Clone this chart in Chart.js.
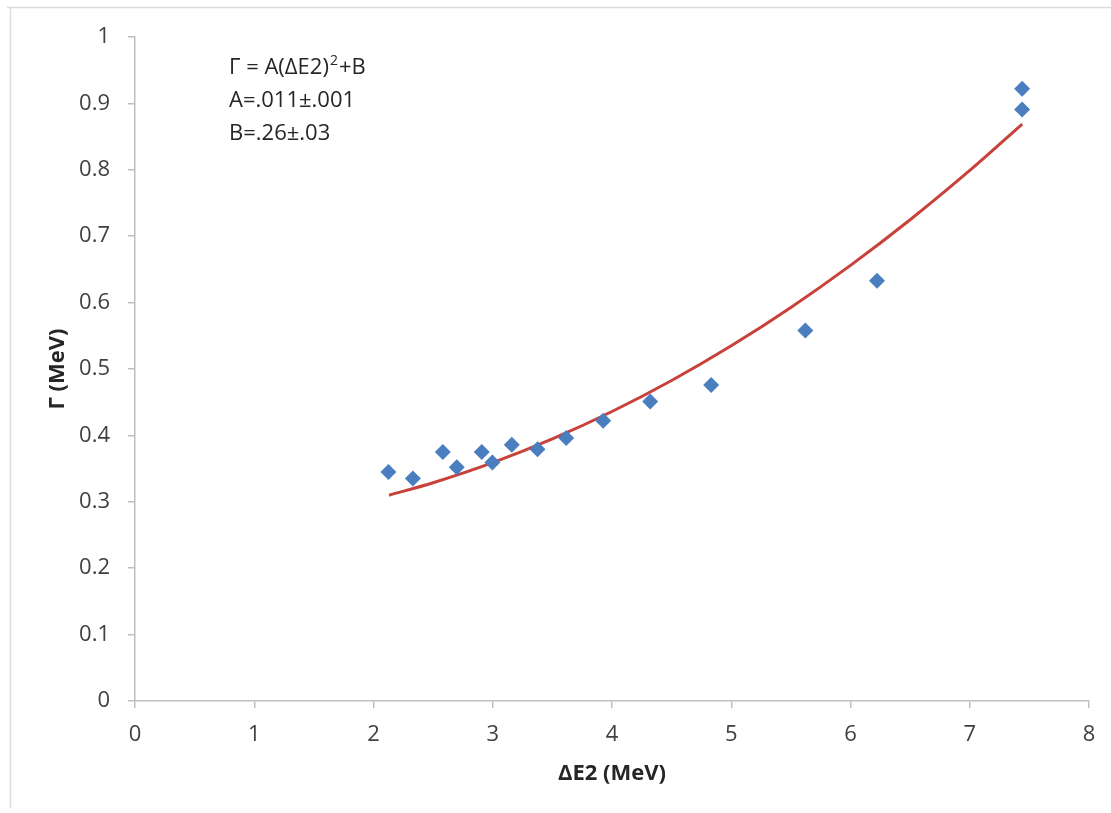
<!DOCTYPE html>
<html>
<head>
<meta charset="utf-8">
<script src="https://cdn.jsdelivr.net/npm/chart.js@4/dist/chart.umd.min.js"></script>
<style>
  html, body { margin: 0; padding: 0; background: #ffffff; }
  #wrap { width: 1111px; height: 813px; position: relative; }
</style>
</head>
<body>
<div id="wrap"><canvas id="c" width="1111" height="813"></canvas></div>
<script>
// Measured level widths: ΔE2 (MeV) against Γ (MeV)
const deltaE2 = [2.125, 2.330, 2.581, 2.698, 2.908, 2.997, 3.160, 3.375, 3.616, 3.926, 4.320, 4.832, 5.621, 6.222, 7.439, 7.439];
const gammaMeV = [0.345, 0.335, 0.375, 0.352, 0.375, 0.359, 0.386, 0.379, 0.396, 0.422, 0.451, 0.476, 0.558, 0.633, 0.891, 0.922];

// Fitted parameters quoted in the annotation: Γ = A(ΔE2)^2 + B
const fitA = 0.011;
const fitB = 0.26;
const fitX = [2.13, 2.5, 3, 3.5, 4, 4.5, 5, 5.5, 6, 6.5, 7, 7.44];

// Axis tick values
const xTicks = [0, 1, 2, 3, 4, 5, 6, 7, 8];
const yTicks = [0, 0.1, 0.2, 0.3, 0.4, 0.5, 0.6, 0.7, 0.8, 0.9, 1];

const annotationLines = ['A=.011\u00B1.001', 'B=.26\u00B1.03'];

const points = deltaE2.map((x, i) => ({ x: x, y: gammaMeV[i] }));
const fitPoints = fitX.map(x => ({ x: x, y: fitA * x * x + fitB }));

const FONT = "'Open Sans', 'DejaVu Sans', sans-serif";
const AXIS_GREY = '#bfbfbf';

// Light frame along the top and left edges, plus white background
const framePlugin = {
  id: 'frame',
  beforeDraw(chart) {
    const ctx = chart.ctx;
    ctx.save();
    ctx.fillStyle = '#ffffff';
    ctx.fillRect(0, 0, chart.width, chart.height);
    ctx.strokeStyle = '#dcdcdc';
    ctx.lineWidth = 1.5;
    ctx.beginPath();
    ctx.moveTo(7, 7.5);
    ctx.lineTo(chart.width, 7.5);
    ctx.moveTo(10.5, 7.5);
    ctx.lineTo(10.5, 808);
    ctx.stroke();
    ctx.restore();
  }
};

// Fit equation text block in the upper left of the plot
const equationPlugin = {
  id: 'equation',
  afterDraw(chart) {
    const ctx = chart.ctx;
    const x0 = chart.chartArea.left + 94;
    const y0 = 68;
    const gap = 33;
    ctx.save();
    ctx.fillStyle = '#262626';
    ctx.textBaseline = 'middle';
    ctx.textAlign = 'left';
    ctx.font = '22px ' + FONT;
    const head = '\u0393 = A(\u0394E2)';
    ctx.fillText(head, x0, y0);
    let w = ctx.measureText(head).width;
    ctx.font = '14px ' + FONT;
    ctx.fillText('2', x0 + w + 1, y0 - 7);
    const w2 = ctx.measureText('2').width;
    ctx.font = '22px ' + FONT;
    ctx.fillText('+B', x0 + w + w2 + 2, y0);
    annotationLines.forEach((t, i) => {
      ctx.fillText(t, x0, y0 + gap * (i + 1));
    });
    ctx.restore();
  }
};

new Chart(document.getElementById('c'), {
  type: 'scatter',
  data: {
    datasets: [
      {
        label: 'data',
        data: points,
        pointStyle: 'rectRot',
        pointRadius: 8,
        pointHoverRadius: 8,
        backgroundColor: '#4a7ebf',
        borderColor: '#4a7ebf',
        borderWidth: 0,
        order: 0
      },
      {
        label: 'fit',
        data: fitPoints,
        showLine: true,
        borderColor: '#c8413a',
        borderWidth: 3,
        pointRadius: 0,
        pointHoverRadius: 0,
        cubicInterpolationMode: 'monotone',
        fill: false,
        order: 1
      }
    ]
  },
  options: {
    responsive: false,
    animation: false,
    devicePixelRatio: 1,
    layout: { padding: { top: 37, right: 22, bottom: 0, left: 0 } },
    plugins: {
      legend: { display: false },
      tooltip: { enabled: false }
    },
    scales: {
      x: {
        type: 'linear',
        min: 0,
        max: 8,
        afterBuildTicks(scale) { scale.ticks = xTicks.map(v => ({ value: v })); },
        afterFit(scale) { scale.height = 112; },
        ticks: {
          color: '#404040',
          font: { family: FONT, size: 22 },
          padding: 14,
          maxRotation: 0,
          autoSkip: false
        },
        grid: { drawOnChartArea: false, drawTicks: true, tickLength: 7, color: AXIS_GREY, lineWidth: 1.5 },
        border: { display: true, color: AXIS_GREY, width: 1.5 },
        title: {
          display: true,
          text: '\u0394E2 (MeV)',
          color: '#262626',
          font: { family: FONT, size: 22, weight: 'bold' },
          padding: { top: 0, bottom: 26 }
        }
      },
      y: {
        type: 'linear',
        min: 0,
        max: 1,
        afterBuildTicks(scale) { scale.ticks = yTicks.map(v => ({ value: v })); },
        afterFit(scale) { scale.width = 135; },
        ticks: {
          color: '#404040',
          font: { family: FONT, size: 22 },
          padding: 18,
          autoSkip: false,
          callback: v => String(Math.round(v * 10) / 10)
        },
        grid: { drawOnChartArea: false, drawTicks: true, tickLength: 7, color: AXIS_GREY, lineWidth: 1.5 },
        border: { display: true, color: AXIS_GREY, width: 1.5 },
        title: {
          display: true,
          text: '\u0393 (MeV)',
          color: '#262626',
          font: { family: FONT, size: 22, weight: 'bold' },
          padding: { top: 45, bottom: 0 }
        }
      }
    }
  },
  plugins: [framePlugin, equationPlugin]
});
</script>
</body>
</html>
